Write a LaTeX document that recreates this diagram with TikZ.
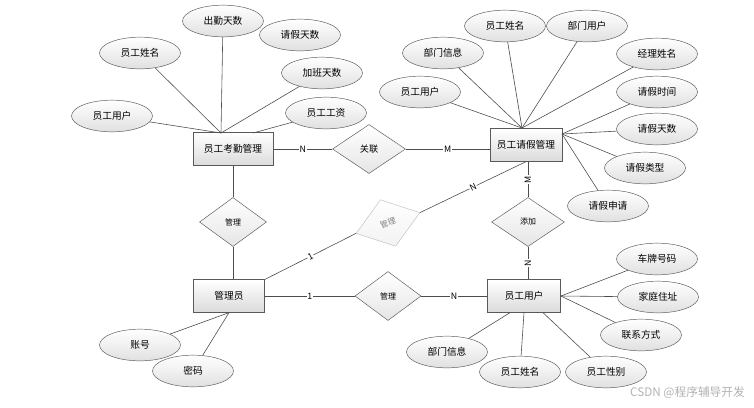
\documentclass[tikz,border=0pt]{standalone}
\usepackage{fontspec}
\setmainfont{Noto Sans CJK SC}
\usetikzlibrary{shapes.geometric}
\begin{document}
\begin{tikzpicture}[x=0.03cm, y=-0.03cm,
        entity/.style={rectangle, draw=black!65, line width=0.8pt, top color=white, bottom color=black!14,
            minimum height=0.97cm, inner sep=0pt, font=\fontsize{8.3}{10}\selectfont},
        attr/.style={ellipse, draw=black!65, top color=white, bottom color=black!12,
            minimum width=2.43cm, minimum height=0.95cm, inner sep=0pt, font=\fontsize{8.3}{10}\selectfont},
        rel/.style={diamond, draw=black!65, top color=white, bottom color=black!10,
            minimum width=2.19cm, minimum height=1.47cm, inner sep=0pt, font=\fontsize{6.8}{8}\selectfont},
        card/.style={fill=white, inner sep=0.6pt, font=\fontsize{7.5}{9}\selectfont},
        link/.style={draw=black!70, line width=0.5pt}]
            \useasboundingbox (0, 0) rectangle (754, 407);
            \node[entity, minimum width=2.4cm] (kq) at (233, 149) {员工考勤管理};
            \node[entity, minimum width=2.16cm] (qj) at (526, 145) {员工请假管理};
            \node[entity, minimum width=2.13cm] (gly) at (229, 296) {管理员};
            \node[entity, minimum width=2.19cm] (yh) at (524, 296) {员工用户};
            \node[rel, font=\fontsize{7.8}{9}\selectfont] (gl) at (369, 149) {关联};
            \node[rel, minimum width=2.01cm] (lm) at (233, 222) {管理};
            \node[rel, minimum width=2.01cm, rotate=18, draw=black!25, bottom color=black!5, text=black!50] (gm) at (388, 223) {管理};
            \node[rel] (tj) at (528, 222) {添加};
            \node[rel, minimum width=1.98cm] (bm) at (388, 296) {管理};
            \coordinate (kqtop) at (221, 133);
            \coordinate (kqtop2) at (253, 133);
            \coordinate (qjtop) at (522, 128);
            \coordinate (qjright) at (562, 134);
            \foreach \n/\x/\y/\t in {kq1/223/21/出勤天数, kq2/300/35/请假天数, kq3/140/53/员工姓名,
                kq4/322/73/加班天数, kq5/112/116/员工用户, kq6/326/113/员工工资}
                \node[attr] (\n) at (\x, \y) {\t};
            \foreach \n/\x/\y/\t in {qj1/505/26/员工姓名, qj2/587/26/部门用户, qj3/443/53/部门信息,
                qj4/657/54/经理姓名, qj5/420/92/员工用户, qj6/657/92/请假时间, qj7/657/129/请假天数,
                qj8/645/168/请假类型, qj9/608/206/请假申请}
                \node[attr] (\n) at (\x, \y) {\t};
            \foreach \n/\x/\y/\t in {gl1/140/345/账号, gl2/193/371/密码, yh1/657/259/车牌号码,
                yh2/658/297/家庭住址, yh3/641/335/联系方式, yh4/447/352/部门信息, yh5/520/372/员工姓名,
                yh6/606/372/员工性别}
                \node[attr] (\n) at (\x, \y) {\t};
            \foreach \n in {kq1, kq3, kq4, kq5}
                \draw[link] (\n) -- (kqtop);
            \draw[link] (kq6) -- (kqtop2);
            \foreach \n in {qj1, qj2, qj3, qj4, qj5}
                \draw[link] (\n) -- (qjtop);
            \foreach \n in {qj6, qj7, qj8, qj9}
                \draw[link] (\n) -- (qjright);
            \foreach \n in {gl1, gl2}
                \draw[link] (\n) -- (gly.south);
            \foreach \n in {yh1, yh2, yh3}
                \draw[link] (\n) -- (yh.east);
            \draw[link] (yh4) -- ([xshift=-0.42cm]yh.south);
            \draw[link] (yh5) -- (yh.south);
            \draw[link] (yh6) -- ([xshift=0.57cm]yh.south);
            \draw[link] (kq.east) -- node[card] {N} (gl.west);
            \draw[link] (gl.east) -- node[card] {M} (gl.east -| qj.west);
            \draw[link] (kq.south) -- (lm.north);
            \draw[link] (lm.south) -- (lm.south |- gly.north);
            \draw[link] (gly.north east) -- node[card, sloped] {1} (gm.west);
            \draw[link] (gm.east) -- node[card, sloped] {N} (qj.south);
            \draw[link] (tj.north |- qj.south) -- node[card, rotate=90] {M} (tj.north);
            \draw[link] (tj.south) -- node[card, rotate=90] {N} (tj.south |- yh.north);
            \draw[link] (gly.east) -- node[card] {1} (bm.west);
            \draw[link] (bm.east) -- node[card] {N} (yh.west);
            \node[anchor=east, text=black!30, font=\fontsize{10}{12}\selectfont] (wm) at (749, 393) {CSDN @程序辅导开发};
\end{tikzpicture}
\end{document}
